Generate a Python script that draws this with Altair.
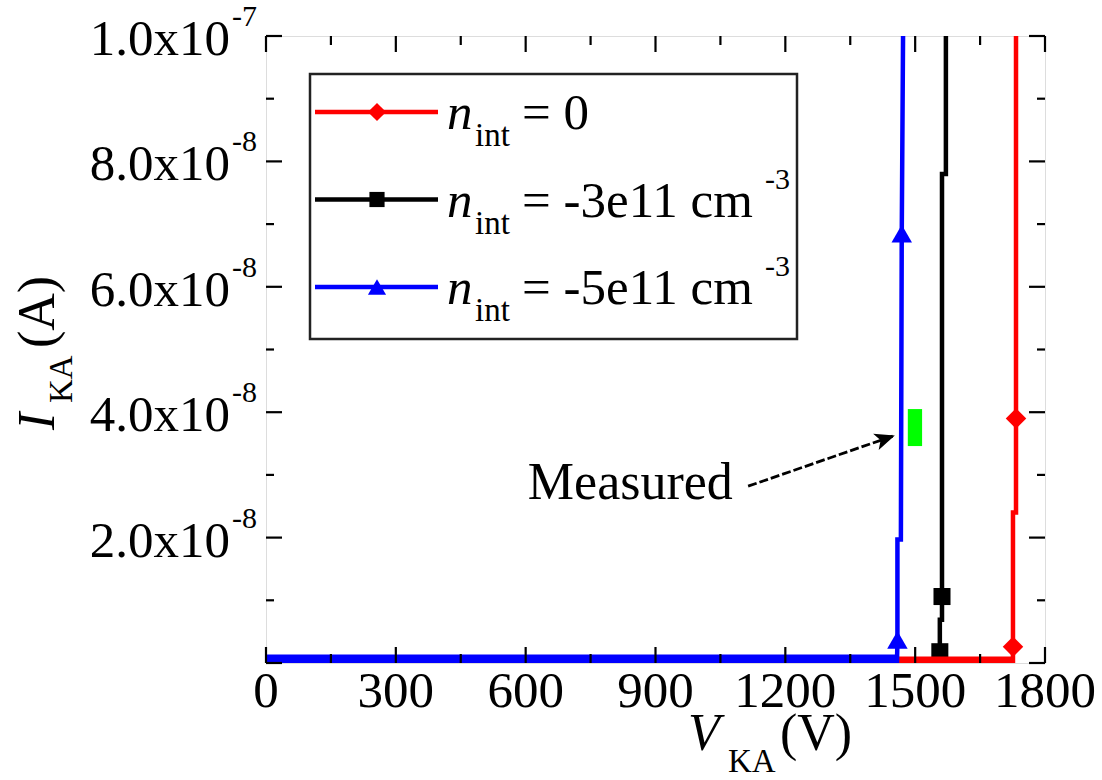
import altair as alt
import pandas as pd

# ---------------- data ----------------
# n_int = 0 (red)
red_V = [0, 1726, 1726, 1726, 1733, 1733, 1733]
red_I = [0, 0, 2.6e-9, 2.4e-8, 2.4e-8, 3.9e-8, 1.0e-7]
red_mV = [1726, 1733]
red_mI = [2.6e-9, 3.9e-8]

# n_int = -3e11 cm^-3 (black)
blk_V = [0, 1557, 1557, 1557, 1562, 1562, 1562, 1571, 1571]
blk_I = [0, 0, 1.8e-9, 6.9e-9, 6.9e-9, 1.06e-8, 7.8e-8, 7.8e-8, 1.0e-7]
blk_mV = [1557, 1562]
blk_mI = [1.8e-9, 1.06e-8]

# n_int = -5e11 cm^-3 (blue)
blu_V = [0, 1458, 1459, 1459, 1467, 1469, 1472]
blu_I = [0, 0, 3.7e-9, 1.97e-8, 1.97e-8, 6.85e-8, 1.0e-7]
blu_mV = [1459, 1469]
blu_mI = [3.7e-9, 6.85e-8]

# measured region (green box) and annotation arrow
meas_V = [1483, 1516]
meas_I = [3.46e-8, 4.05e-8]
arrow_V = [1114, 1453]
arrow_I = [2.82e-8, 3.63e-8]
meas_text_V = [605]
meas_text_I = [2.61e-8]
meas_text = ["Measured"]

# axes
x_major = [0, 300, 600, 900, 1200, 1500, 1800]
x_minor = [150, 450, 750, 1050, 1350, 1650]
x_labels = ["0", "300", "600", "900", "1200", "1500", "1800"]
y_major = [0, 2e-8, 4e-8, 6e-8, 8e-8, 1e-7]
y_minor = [1e-8, 3e-8, 5e-8, 7e-8, 9e-8]
y_label_vals = [2e-8, 4e-8, 6e-8, 8e-8, 1e-7]
y_label_mant = ["2.0x10", "4.0x10", "6.0x10", "8.0x10", "1.0x10"]
y_label_exp = ["-8", "-8", "-8", "-8", "-7"]

# legend
leg_text = ["= 0", "= -3e11 cm", "= -5e11 cm"]
leg_sup = ["", "-3", "-3"]

# ---------------- styling ----------------
W, H = 779, 627
FONT = "Liberation Serif"
xs = alt.Scale(domain=[0, 1800], nice=False, zero=False)
ys = alt.Scale(domain=[0, 1e-7], nice=False, zero=False)
ONE = pd.DataFrame({"k": [0]})

series = [
    dict(V=blk_V, I=blk_I, mV=blk_mV, mI=blk_mI, color="#000000", shape="square", msize=290, lsize=230, band=12),
    dict(V=red_V, I=red_I, mV=red_mV, mI=red_mI, color="#ff0000", shape="diamond", msize=420, lsize=330, band=13),
    dict(V=blu_V, I=blu_I, mV=blu_mV, mI=blu_mI, color="#0000ff", shape="triangle-up", msize=420, lsize=330, band=17),
]

layers = []

for s in series:
    df = pd.DataFrame({"V": s["V"], "I": s["I"], "idx": list(range(len(s["V"])))})
    band = alt.Chart(df).transform_filter("datum.I == 0").mark_line(
        color=s["color"], strokeWidth=s["band"], clip=True, strokeCap="butt").encode(
        x=alt.X("V:Q", scale=xs, axis=None), y=alt.Y("I:Q", scale=ys, axis=None), order="idx:Q")
    line = alt.Chart(df).mark_line(color=s["color"], strokeWidth=4.5, clip=True).encode(
        x=alt.X("V:Q", scale=xs, axis=None), y=alt.Y("I:Q", scale=ys, axis=None), order="idx:Q")
    mdf = pd.DataFrame({"V": s["mV"], "I": s["mI"]})
    marks = alt.Chart(mdf).mark_point(shape=s["shape"], filled=True, size=s["msize"], color=s["color"],
                                      opacity=1).encode(
        x=alt.X("V:Q", scale=xs, axis=None), y=alt.Y("I:Q", scale=ys, axis=None))
    layers += [band, line, marks]

# green measured box
mdf = pd.DataFrame({"v1": [meas_V[0]], "v2": [meas_V[1]], "i1": [meas_I[0]], "i2": [meas_I[1]]})
layers.append(alt.Chart(mdf).mark_rect(color="#00ff00").encode(
    x=alt.X("v1:Q", scale=xs, axis=None), x2="v2:Q",
    y=alt.Y("i1:Q", scale=ys, axis=None), y2="i2:Q"))

# arrow
adf = pd.DataFrame({"v1": [arrow_V[0]], "v2": [arrow_V[1]], "i1": [arrow_I[0]], "i2": [arrow_I[1]]})
layers.append(alt.Chart(adf).mark_rule(color="black", strokeWidth=2.8, strokeDash=[9, 3]).encode(
    x=alt.X("v1:Q", scale=xs, axis=None), x2="v2:Q",
    y=alt.Y("i1:Q", scale=ys, axis=None), y2="i2:Q"))
layers.append(alt.Chart(pd.DataFrame({"V": [arrow_V[1]], "I": [arrow_I[1]]})).mark_point(
    shape="M0,0 L0.85,2 L0,1.5 L-0.85,2 Z", filled=True, color="black", size=400, angle=71, opacity=1).encode(
    x=alt.X("V:Q", scale=xs, axis=None), y=alt.Y("I:Q", scale=ys, axis=None)))
layers.append(alt.Chart(pd.DataFrame({"V": meas_text_V, "I": meas_text_I, "t": meas_text})).mark_text(
    font=FONT, fontSize=52, align="left", baseline="alphabetic", color="black").encode(
    x=alt.X("V:Q", scale=xs, axis=None), y=alt.Y("I:Q", scale=ys, axis=None), text="t:N"))

# inward ticks on all four sides
def xticks(vals, length):
    d = pd.DataFrame({"t": vals})
    bot = alt.Chart(d).mark_rule(color="black", strokeWidth=2.2).encode(
        x=alt.X("t:Q", scale=xs, axis=None), y=alt.value(H), y2=alt.value(H - length))
    top = alt.Chart(d).mark_rule(color="black", strokeWidth=2.2).encode(
        x=alt.X("t:Q", scale=xs, axis=None), y=alt.value(0), y2=alt.value(length))
    return [bot, top]

def yticks(vals, length):
    d = pd.DataFrame({"t": vals})
    left = alt.Chart(d).mark_rule(color="black", strokeWidth=2.2).encode(
        y=alt.Y("t:Q", scale=ys, axis=None), x=alt.value(0), x2=alt.value(length))
    right = alt.Chart(d).mark_rule(color="black", strokeWidth=2.2).encode(
        y=alt.Y("t:Q", scale=ys, axis=None), x=alt.value(W), x2=alt.value(W - length))
    return [left, right]

layers += xticks(x_major, 16) + xticks(x_minor, 9) + yticks(y_major, 16) + yticks(y_minor, 8)

# x tick labels
xdf = pd.DataFrame({"V": x_major, "l": x_labels})
layers.append(alt.Chart(xdf).mark_text(font=FONT, fontSize=51, align="center", baseline="alphabetic",
                                       color="black").encode(
    x=alt.X("V:Q", scale=xs, axis=None), y=alt.value(H + 44), text="l:N"))

# y tick labels with superscript exponents
ydf = pd.DataFrame({"I": y_label_vals, "m": y_label_mant, "e": y_label_exp})
layers.append(alt.Chart(ydf).mark_text(font=FONT, fontSize=51, align="right", baseline="alphabetic",
                                       dy=19, color="black").encode(
    y=alt.Y("I:Q", scale=ys, axis=None), x=alt.value(-36), text="m:N"))
layers.append(alt.Chart(ydf).mark_text(font=FONT, fontSize=30, align="left", baseline="alphabetic",
                                       dy=-10, color="black").encode(
    y=alt.Y("I:Q", scale=ys, axis=None), x=alt.value(-34), text="e:N"))

# axis titles
def txt(s, x, y, size=52, style="normal", angle=0):
    kw = dict(font=FONT, fontSize=size, fontStyle=style, align="left", baseline="alphabetic", color="black")
    if angle:
        kw["angle"] = angle
    return alt.Chart(ONE).mark_text(**kw).encode(x=alt.value(x), y=alt.value(y), text=alt.value(s))

layers += [
    txt("V", 422, 714, style="italic"),
    txt("KA", 462, 736, size=33),
    txt("(V)", 514, 714),
    txt("I", -212, 394, style="italic", angle=270),
    txt("KA", -194, 367, size=33, angle=270),
    txt("(A)", -212, 312, angle=270),
]

# legend
layers.append(alt.Chart(ONE).mark_rect(fill="white", stroke="#222222", strokeWidth=2.5).encode(
    x=alt.value(44), x2=alt.value(531), y=alt.value(38), y2=alt.value(303)))
leg_series = [series[1], series[0], series[2]]
for i, s in enumerate(leg_series):
    ly = 76 + 87.5 * i
    layers.append(alt.Chart(ONE).mark_rule(color=s["color"], strokeWidth=4.5).encode(
        x=alt.value(49), x2=alt.value(172), y=alt.value(ly)))
    layers.append(alt.Chart(ONE).mark_point(shape=s["shape"], filled=True, size=s["lsize"],
                                            color=s["color"], opacity=1).encode(
        x=alt.value(111), y=alt.value(ly)))
    layers.append(txt("n", 181, ly + 17, size=51, style="italic"))
    layers.append(txt("int", 209, ly + 34, size=33))
    layers.append(txt(leg_text[i], 256, ly + 17, size=51))
    if leg_sup[i]:
        layers.append(txt(leg_sup[i], 499, ly - 11, size=30))

chart = alt.layer(*layers).properties(
    width=W, height=H,
    autosize=alt.AutoSizeParams(type="none"),
    padding={"left": 266, "top": 36, "right": 57, "bottom": 117},
).configure_view(stroke="black", strokeWidth=2.5).configure(background="white")

chart.save("out.html", embed_options={"renderer": "svg", "actions": False})
